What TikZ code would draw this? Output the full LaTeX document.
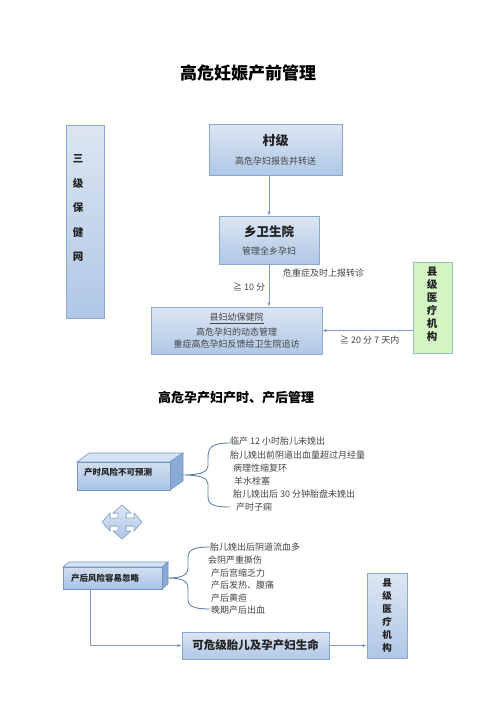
\documentclass[tikz,border=0pt]{standalone}
\usepackage{fontspec}
\setmainfont{Noto Sans CJK SC}
\usetikzlibrary{arrows.meta}

\definecolor{boxtop}{HTML}{DCE6F2}
\definecolor{boxbot}{HTML}{AFC7E6}
\definecolor{boxline}{HTML}{8AA8D2}
\definecolor{greenfill}{HTML}{D3F5C4}
\definecolor{greenline}{HTML}{9CC3B8}
\definecolor{linecol}{HTML}{7F9CC6}
\definecolor{bracecol}{HTML}{5E84AE}
\definecolor{txt}{HTML}{222222}
\definecolor{txtgray}{HTML}{444444}
\definecolor{cubefront}{HTML}{A9C3E6}
\definecolor{cubetop}{HTML}{D5E2F3}
\definecolor{cubeside}{HTML}{8AAAD6}
\definecolor{cubeline}{HTML}{7595C4}

\newcommand{\fsz}[1]{\fontsize{#1}{#1}\selectfont}

\begin{document}
\begin{tikzpicture}[x=1pt,y=-1pt,
  bluebox/.style={draw=boxline, line width=0.8pt, top color=boxtop, bottom color=boxbot, inner sep=0pt, text=txt},
  greenbox/.style={draw=greenline, line width=0.8pt, fill=greenfill, inner sep=0pt, text=txt},
  flow/.style={draw=linecol, line width=0.9pt, -{Latex[length=4pt,width=3.5pt]}},
  brace/.style={draw=bracecol, line width=0.9pt},
  item/.style={anchor=west, inner sep=0pt, text=txtgray, font=\fsz{9}},
  note/.style={inner sep=0pt, text=txtgray, font=\fsz{9}}]
\useasboundingbox (0,0) rectangle (496,702);
\fill[white] (0,0) rectangle (496,702);

% first part
\node[inner sep=0pt, text=black, font=\fsz{17}\bfseries] (title1) at (248,73) {高危妊娠产前管理};

\node[bluebox, minimum width=38pt, minimum height=193pt] (wang) at (85,221.5) {};
\node[inner sep=0pt, align=center, font=\fsz{10.5}\bfseries, text=txt] (wangtxt) at (78,208)
  {三\\[14pt]级\\[14pt]保\\[14pt]健\\[14pt]网};

\node[bluebox, minimum width=133pt, minimum height=51pt, align=center] (cun) at (275.5,149.5)
  {{\fsz{13}\bfseries 村级}\\[7pt]{\fsz{9}\color{txtgray}高危孕妇报告并转送}};
\node[bluebox, minimum width=100pt, minimum height=48pt, align=center] (xiang) at (269,240)
  {{\fsz{12.5}\bfseries 乡卫生院}\\[6pt]{\fsz{9}\color{txtgray}管理全乡孕妇}};
\node[bluebox, minimum width=171pt, minimum height=47pt, align=center, font=\fsz{9}] (xian) at (236.5,330.5)
  {{\color{txtgray}\underline{县妇幼保健院}}\\[3pt]{\color{txtgray}高危孕妇的动态管理}\\[3pt]{\color{txtgray}重症高危孕妇反馈给卫生院追访}};
\node[greenbox, minimum width=39pt, minimum height=91pt] (yl1) at (432.5,307.5) {};
\node[inner sep=0pt, align=center, font=\fsz{10.5}\bfseries, text=txt] (yl1txt) at (432,304)
  {县\\[2.5pt]级\\[2.5pt]医\\[2.5pt]疗\\[2.5pt]机\\[2.5pt]构};

\draw[flow] (cun.south -| xiang.north) -- (xiang.north);
\draw[flow] (xiang.south) -- (xiang.south |- xian.north);
\draw[flow] (yl1.west |- xian.east) -- (xian.east);

\node[note, anchor=west] (l1) at (283,273) {危重症及时上报转诊};
\node[note, anchor=west] (l2) at (233,287) {≧ 10 分};
\node[note, anchor=west] (l3) at (340,340) {≧ 20 分 7 天内};

% second part
\node[inner sep=0pt, text=black, font=\fsz{13}\bfseries] (title2) at (236,398) {高危孕产妇产时、产后管理};

% box p1 (3d)
\fill[cubetop, draw=cubeline, line width=0.6pt] (77,462) -- (89,453) -- (183,453) -- (170,462) -- cycle;
\fill[cubeside, draw=cubeline, line width=0.6pt] (170,462) -- (183,453) -- (183,481) -- (170,490) -- cycle;
\node[draw=cubeline, line width=0.6pt, top color=boxtop!80!cubefront, bottom color=cubefront, minimum width=93pt, minimum height=28pt, inner sep=0pt] (p1) at (123.5,476) {};
\node[inner sep=0pt, anchor=west, font=\fsz{8.5}\bfseries, text=txt] (p1txt) at (84,472) {产时风险不可预测};

\draw[brace] (230,443) .. controls (212,443) and (208,447) .. (208,458) -- (208,466)
  .. controls (208,472) and (200,475) .. (183,475)
  .. controls (200,475) and (208,478) .. (208,484) -- (208,496)
  .. controls (208,504) and (212,507) .. (230,507);

\node[item] (a1) at (230,441) {临产 12 小时胎儿未娩出};
\node[item] (a2) at (230,455) {胎儿娩出前阴道出血量超过月经量};
\node[item] (a3) at (233,468) {病理性缩复环};
\node[item] (a4) at (234,481) {羊水栓塞};
\node[item] (a5) at (233,494) {胎儿娩出后 30 分钟胎盘未娩出};
\node[item] (a6) at (236,507) {产时子痫};

% four way arrow
\fill[top color=boxtop, bottom color=boxbot, draw=boxline, line width=0.6pt, shift={(122,522)}]
  (0,-17) -- (9,-9) -- (4,-9) -- (4,-4) -- (12,-4) -- (12,-9) -- (20,0) -- (12,9) -- (12,4)
  -- (4,4) -- (4,9) -- (9,9) -- (0,17) -- (-9,9) -- (-4,9) -- (-4,4) -- (-12,4) -- (-12,9)
  -- (-20,0) -- (-12,-9) -- (-12,-4) -- (-4,-4) -- (-4,-9) -- (-9,-9) -- cycle;

% box p2 (3d)
\fill[cubetop, draw=cubeline, line width=0.6pt] (63,567) -- (69,562) -- (168,562) -- (162,567) -- cycle;
\fill[cubeside, draw=cubeline, line width=0.6pt] (162,567) -- (168,562) -- (168,584) -- (162,589) -- cycle;
\node[draw=cubeline, line width=0.6pt, top color=boxtop!80!cubefront, bottom color=cubefront, minimum width=99pt, minimum height=22pt, inner sep=0pt] (p2) at (112.5,578) {};
\node[inner sep=0pt, anchor=west, font=\fsz{8.5}\bfseries, text=txt] (p2txt) at (71,578) {产后风险容易忽略};

\draw[brace] (210,547) .. controls (193,547) and (188,550) .. (188,558) -- (188,568)
  .. controls (188,575) and (182,578) .. (168,578)
  .. controls (182,578) and (188,581) .. (188,588) -- (188,599)
  .. controls (188,606) and (193,609) .. (210,609);

\node[item] (b1) at (210,547) {胎儿娩出后阴道流血多};
\node[item] (b2) at (208,560) {会阴严重撕伤};
\node[item] (b3) at (211,573) {产后宫缩乏力};
\node[item] (b4) at (211,585) {产后发热、腹痛};
\node[item] (b5) at (211,598) {产后黄疸};
\node[item] (b6) at (211,610) {晚期产后出血};

\node[bluebox, minimum width=147pt, minimum height=27pt, font=\fsz{11.5}\bfseries] (kw) at (255.5,645.5) {可危级胎儿及孕产妇生命};
\node[bluebox, minimum width=40pt, minimum height=85pt] (yl2) at (387,615.5) {};
\node[inner sep=0pt, align=center, font=\fsz{9.5}\bfseries, text=txt] (yl2txt) at (387,616)
  {县\\[3.5pt]级\\[3.5pt]医\\[3.5pt]疗\\[3.5pt]机\\[3.5pt]构};

\draw[flow] ([xshift=28pt]p2.south west) |- (kw.west);
\draw[flow] (kw.east) -- (yl2.west |- kw.east);
\end{tikzpicture}
\end{document}
